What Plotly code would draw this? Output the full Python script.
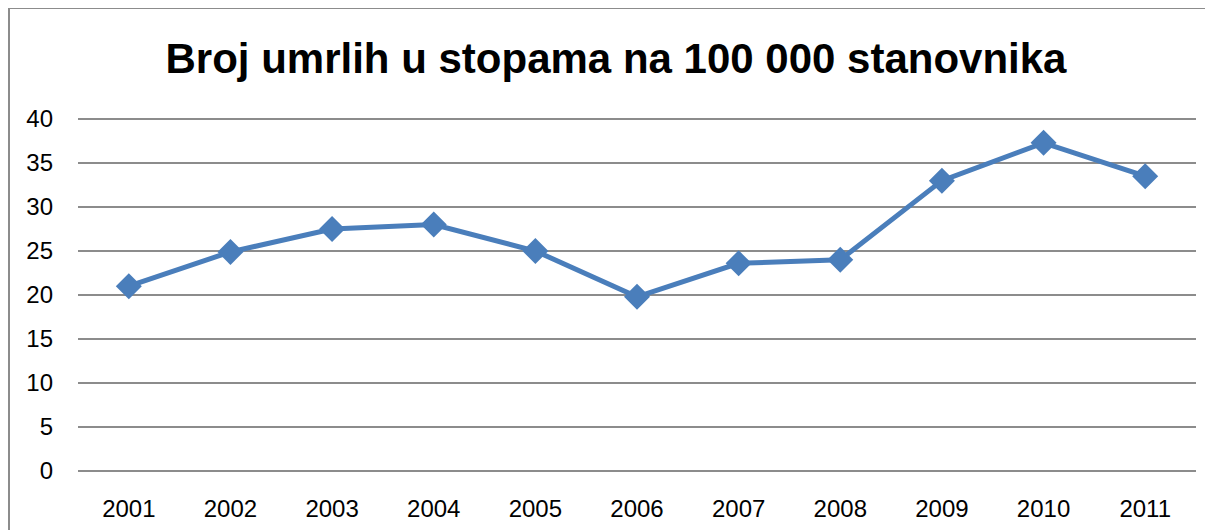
import plotly.graph_objects as go

years = ["2001", "2002", "2003", "2004", "2005", "2006", "2007", "2008", "2009", "2010", "2011"]
values = [21.0, 24.9, 27.5, 28.0, 25.0, 19.8, 23.6, 24.0, 33.0, 37.3, 33.5]
y_ticks = [0, 5, 10, 15, 20, 25, 30, 35, 40]
title_text = "Broj umrlih u stopama na 100 000 stanovnika"

# page body has an 8px margin, so the figure starts at (8, 8) on screen
W, H = 1205, 522
L, T = 70, 110
R = W - 1188
B = H - 464
pw, ph = W - L - R, H - T - B

fig = go.Figure()
fig.add_trace(go.Scatter(
    x=years, y=values, mode="lines+markers",
    line=dict(color="#4A7EBB", width=5),
    marker=dict(symbol="diamond", size=20, color="#4A7EBB"),
    showlegend=False, hoverinfo="x+y",
))

fig.update_layout(
    width=W, height=H,
    margin=dict(l=L, r=R, t=T, b=B, autoexpand=False),
    paper_bgcolor="white", plot_bgcolor="white",
    font=dict(family="Liberation Sans, Arial, sans-serif", color="#000000", size=24),
    title=dict(text="<b>" + title_text + "</b>", x=608 / W, xanchor="center",
               y=1 - 50 / H, yanchor="middle",
               font=dict(size=42, family="Liberation Sans, Arial, sans-serif", color="#000000")),
    xaxis=dict(type="category", range=[-0.5, 10.5], showgrid=False, zeroline=False,
               showline=False, ticks="", ticklabelstandoff=20,
               tickfont=dict(size=24)),
    yaxis=dict(range=[-0.12, 40.12], tickvals=y_ticks, showgrid=True, gridcolor="#8C8C8C",
               gridwidth=1.5, zeroline=True, zerolinecolor="#8C8C8C", zerolinewidth=1.5,
               showline=False, ticks="",
               ticklabelstandoff=24, tickfont=dict(size=24)),
    shapes=[dict(type="rect", xref="paper", yref="paper",
                 x0=(1 - L) / pw, x1=(W + 20 - L) / pw,
                 y0=-(B + 20) / ph, y1=(H - 0 - B) / ph,
                 line=dict(color="#8C8C8C", width=2), fillcolor="rgba(0,0,0,0)",
                 layer="below")],
)

fig.write_html("out.html")
